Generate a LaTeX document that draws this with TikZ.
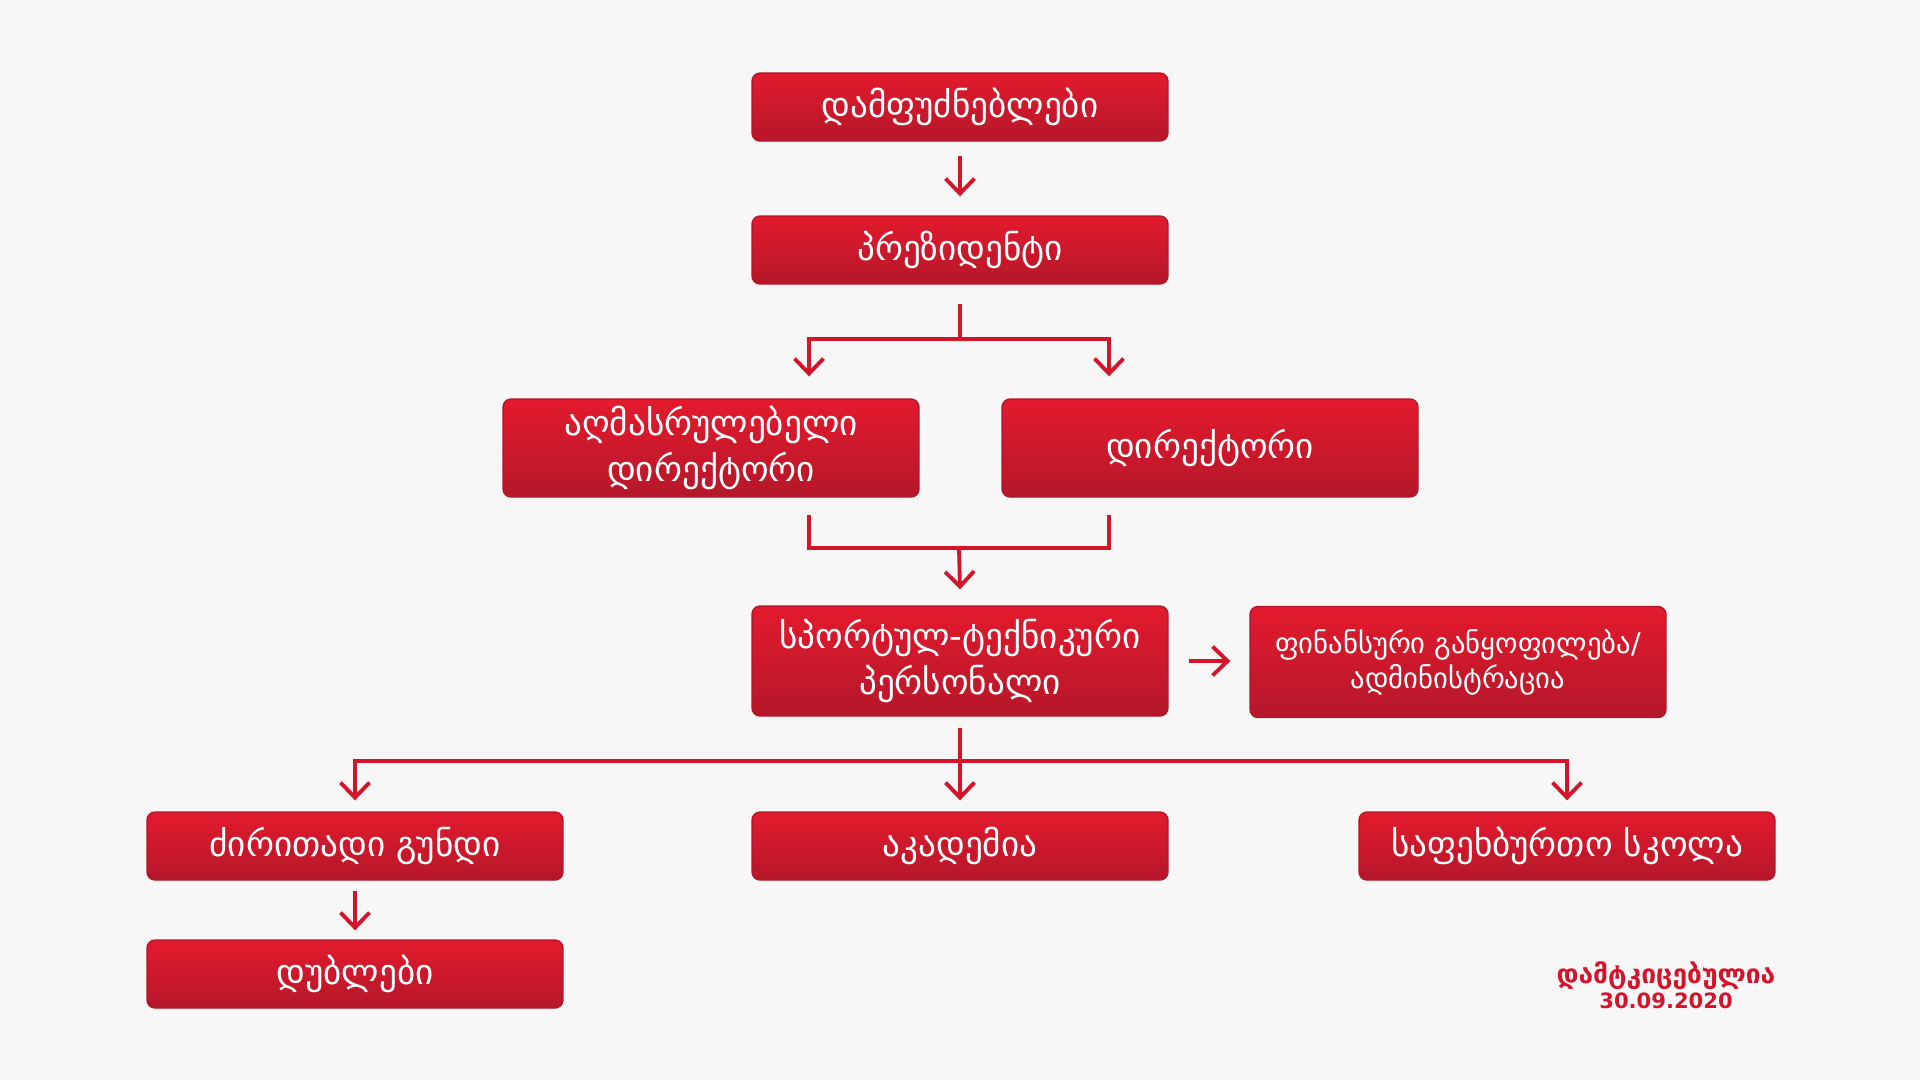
\documentclass[tikz,border=0pt]{standalone}
\usepackage{fontspec}
\newfontfamily\geofont{DejaVu Sans}
\usetikzlibrary{positioning, arrows.meta, calc}
\definecolor{bgcol}{HTML}{F7F7F7}
\definecolor{boxtop}{HTML}{E31A2D}
\definecolor{boxbot}{HTML}{B5172A}
\definecolor{boxedge}{HTML}{B31628}
\definecolor{linecol}{HTML}{D3142B}
\begin{document}
\begin{tikzpicture}[
        x=0.02cm, y=-0.02cm,
        redbox/.style={draw=boxedge, line width=0.8pt, rounded corners=0.16cm, top color=boxtop, bottom color=boxbot,
            text=white, font=\geofont\fontsize{20}{26}\selectfont, minimum width=8.32cm, minimum height=1.36cm, align=center, inner sep=2pt},
        tallbox/.style={redbox, minimum height=1.96cm},
        smallbox/.style={redbox, font=\geofont\fontsize{16.3}{20}\selectfont, minimum height=2.22cm},
        arrow/.style={-{Straight Barb[length=0.3cm, width=0.58cm, line width=2.2pt]}, line width=2.2pt, color=linecol},
        link/.style={line width=2.2pt, color=linecol},
        stamp/.style={color=linecol, font=\geofont\bfseries\fontsize{12}{14}\selectfont, align=center}
    ]
    % background and margins
    \fill[bgcol] (0,0) rectangle (1920,1080);
    \useasboundingbox (0,0) rectangle (1920,1080);

    % boxes
    \node[redbox] (founders) at (960,107) {დამფუძნებლები};
    \node[redbox] (president) at (960,250) {პრეზიდენტი};
    \node[tallbox] (execdir) at (711,448) {აღმასრულებელი\\დირექტორი};
    \node[tallbox] (director) at (1210,448) {დირექტორი};
    \node[redbox, minimum height=2.2cm] (staff) at (960,661) {სპორტულ-ტექნიკური\\პერსონალი};
    \node[smallbox] (finance) at (1458,662) {ფინანსური განყოფილება/\\ადმინისტრაცია};
    \node[redbox] (mainteam) at (355,846) {ძირითადი გუნდი};
    \node[redbox] (academy) at (960,846) {აკადემია};
    \node[redbox] (school) at (1567,846) {საფეხბურთო სკოლა};
    \node[redbox] (reserves) at (355,974) {დუბლები};

    % approval note
    \node[stamp] (approved) at (1666,985) {{\fontsize{15}{16}\selectfont დამტკიცებულია}\\30.09.2020};

    % founders to president
    \draw[arrow] ($(founders.south)+(0,14)$) -- ($(president.north)+(0,-19)$);

    % president to the two directors
    \coordinate (splitA) at ($(president.south)+(0,54)$);
    \draw[link] ($(president.south)+(0,19)$) -- (splitA);
    \draw[arrow] (splitA) -| ($(execdir.north)+(98,-22)$);
    \draw[arrow] (splitA) -| ($(director.north)+(-101,-22)$);

    % directors to staff
    \coordinate (joinA) at ($(execdir.south)+(98,50)$);
    \coordinate (joinB) at ($(director.south)+(-101,50)$);
    \draw[link] ($(execdir.south)+(98,17)$) |- (joinA) -- (joinB) -- ($(director.south)+(-101,17)$);
    \draw[arrow] ($(joinA)!0.5!(joinB)$) -- ($(staff.north)+(0,-16)$);

    % staff to finance
    \draw[arrow] ($(staff.east)+(20,0)$) -- ($(finance.west)+(-19,-1)$);

    % staff to the three units
    \coordinate (splitB) at ($(staff.south)+(0,44)$);
    \draw[link] ($(staff.south)+(0,11)$) -- (splitB);
    \draw[arrow] (splitB) -| ($(mainteam.north)+(0,-11)$);
    \draw[arrow] (splitB) -| ($(school.north)+(0,-11)$);
    \draw[arrow] (splitB) -- ($(academy.north)+(0,-11)$);

    % main team to reserves
    \draw[arrow] ($(mainteam.south)+(0,10)$) -- ($(reserves.north)+(0,-9)$);
\end{tikzpicture}
\end{document}
